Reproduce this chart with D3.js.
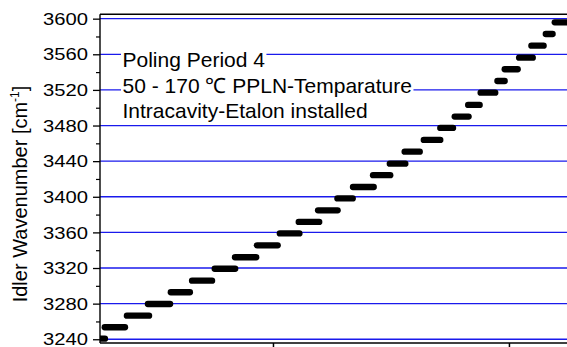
<!DOCTYPE html>
<html>
<head>
<meta charset="utf-8">
<script src="https://cdn.jsdelivr.net/npm/d3@7/dist/d3.min.js"></script>
<style>
  html, body { margin: 0; padding: 0; background: #fff; }
  svg { display: block; font-family: "Liberation Sans", Arial, sans-serif; }
</style>
</head>
<body>
<svg id="chart" width="567" height="347"></svg>
<script>
// Tuning steps: each plateau holds one idler wavenumber over a range of the scan axis
const stepStart = [25.5, 28.7, 38.1, 47.0, 56.7, 65.7, 75.3, 83.9, 93.2, 102.9, 110.9, 119.1, 127.3, 133.9,
                   142.4, 149.5, 155.8, 163.9, 170.9, 177.0, 182.7, 188.0, 195.1, 198.2, 204.3, 209.5, 215.6, 219.4];
const stepEnd = [28.8, 37.3, 47.5, 56.4, 64.8, 74.2, 84.0, 92.9, 102.0, 111.2, 119.6, 127.4, 133.8, 142.7,
                 149.7, 156.1, 162.2, 170.9, 176.3, 182.9, 187.6, 194.2, 198.2, 203.7, 210.1, 214.7, 218.5, 226.7];
const stepWavenumber = [3240.7, 3253.5, 3266.5, 3279.6, 3292.8, 3305.8, 3319.2, 3332.1, 3345.5, 3358.8,
                        3371.7, 3384.8, 3398.1, 3411.0, 3424.3, 3437.2, 3450.6, 3463.8, 3477.3, 3490.0,
                        3503.1, 3516.9, 3530.0, 3543.2, 3556.2, 3569.7, 3582.8, 3595.9];

const yTicks = [3240, 3280, 3320, 3360, 3400, 3440, 3480, 3520, 3560, 3600];
const yMinorTicks = [3260, 3300, 3340, 3380, 3420, 3460, 3500, 3540, 3580];
const xTicks = [100, 200];
const yTitle = "Idler Wavenumber [cm";
const yTitleSup = "-1";
const noteLines = ["Poling Period 4", "50 - 170 \u2103 PPLN-Temparature", "Intracavity-Etalon installed"];

const svg = d3.select("#chart");
const plot = { left: 100, right: 567, top: 14.3, bottom: 343 };

const x = d3.scaleLinear().domain([26.7, 224.6]).range([plot.left, plot.right]);
const y = d3.scaleLinear().domain([3235.8, 3604.9]).range([plot.bottom, plot.top]);

svg.append("defs").append("clipPath").attr("id", "plotClip")
  .append("rect")
  .attr("x", plot.left).attr("y", plot.top)
  .attr("width", plot.right - plot.left).attr("height", plot.bottom - plot.top);

// Horizontal grid at every major wavenumber tick
svg.append("g")
  .selectAll("line")
  .data(yTicks)
  .join("line")
  .attr("x1", plot.left).attr("x2", plot.right)
  .attr("y1", d => y(d)).attr("y2", d => y(d))
  .attr("stroke", "#1a1aec")
  .attr("stroke-width", 1.3);

// Annotation block with white boxes behind each line
const note = svg.append("g");
const noteBaselines = [66.5, 92.6, 118.3];
noteLines.forEach((t, i) => {
  const bg = note.append("rect").attr("fill", "#fff");
  const txt = note.append("text")
    .attr("x", 122.5)
    .attr("y", noteBaselines[i])
    .attr("font-size", 21)
    .attr("fill", "#000")
    .text(t);
  const w = txt.node().getComputedTextLength();
  bg.attr("x", 121).attr("y", noteBaselines[i] - 16.5)
    .attr("width", w + 3).attr("height", 21.5);
  txt.raise();
});

// Step plateaus
svg.append("g")
  .attr("clip-path", "url(#plotClip)")
  .selectAll("line")
  .data(stepWavenumber.map((v, i) => ({ x0: stepStart[i], x1: stepEnd[i], v })))
  .join("line")
  .attr("x1", d => x(d.x0)).attr("x2", d => x(d.x1))
  .attr("y1", d => y(d.v)).attr("y2", d => y(d.v))
  .attr("stroke", "#000")
  .attr("stroke-width", 6.3)
  .attr("stroke-linecap", "round");

// Left axis: major ticks with labels, minor ticks between
const yAxis = svg.append("g")
  .attr("transform", `translate(${plot.left},0)`)
  .call(d3.axisLeft(y).tickValues(yTicks).tickSize(7).tickSizeOuter(0).tickPadding(5)
    .tickFormat(d3.format("d")));
yAxis.select(".domain").remove();
yAxis.selectAll(".tick line").attr("stroke", "#000").attr("stroke-width", 1.3);
yAxis.selectAll(".tick text")
  .attr("font-size", 17)
  .attr("font-family", "'Liberation Sans', Arial, sans-serif")
  .attr("fill", "#000")
  .attr("dy", "0.33em")
  .attr("textLength", 45)
  .attr("lengthAdjust", "spacingAndGlyphs");

svg.append("g")
  .attr("transform", `translate(${plot.left},0)`)
  .call(d3.axisLeft(y).tickValues(yMinorTicks).tickSize(4).tickSizeOuter(0).tickFormat(""))
  .call(g => g.select(".domain").remove())
  .selectAll(".tick line").attr("stroke", "#000").attr("stroke-width", 1.2);

// Bottom axis ticks (labels lie below the visible area)
svg.append("g")
  .attr("transform", `translate(0,${plot.bottom})`)
  .call(d3.axisBottom(x).tickValues(xTicks).tickSize(6).tickSizeOuter(0).tickFormat(""))
  .call(g => g.select(".domain").remove())
  .selectAll(".tick line").attr("stroke", "#000").attr("stroke-width", 1.5);

// Frame lines
const frame = svg.append("g").attr("stroke", "#000").attr("stroke-width", 1.4).attr("fill", "none");
frame.append("line").attr("x1", plot.left).attr("x2", plot.left).attr("y1", plot.top).attr("y2", plot.bottom);
frame.append("line").attr("x1", plot.left).attr("x2", 567).attr("y1", plot.top).attr("y2", plot.top);
frame.append("line").attr("x1", plot.left).attr("x2", 567).attr("y1", plot.bottom).attr("y2", plot.bottom);

// Y axis title with superscript unit exponent
const title = svg.append("text")
  .attr("transform", "translate(26.5,194) rotate(-90)")
  .attr("text-anchor", "middle")
  .attr("font-size", 20)
  .attr("fill", "#000");
title.append("tspan").text(yTitle);
title.append("tspan").attr("font-size", 12).attr("dy", -8).text(yTitleSup);
title.append("tspan").attr("dy", 8).text("]");
</script>
</body>
</html>
